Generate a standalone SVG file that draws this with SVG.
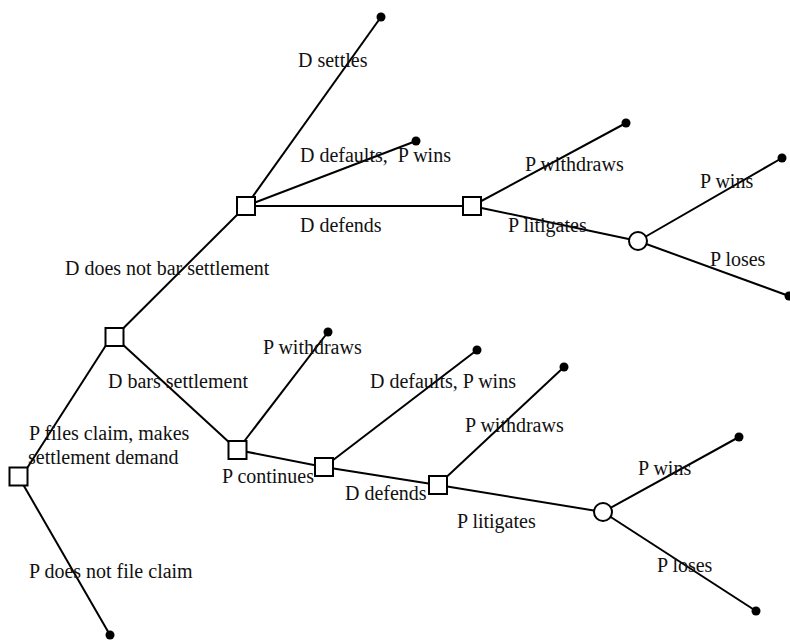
<svg xmlns="http://www.w3.org/2000/svg" width="790" height="641" viewBox="0 0 790 641">
<style>
.e{stroke:#000;stroke-width:2;fill:none}
.d{stroke:#000;stroke-width:2;fill:#fff}
.leaf{fill:#000}
text{font-family:"Liberation Serif","Times New Roman",serif;font-size:20px;fill:#111}
</style>
<rect width="790" height="641" fill="#fff"/>
<g id="connectors">
<line class="e" x1="27.5" y1="467.5" x2="105.5" y2="346"/>
<line class="e" x1="18.5" y1="476.5" x2="110" y2="635"/>
<line class="e" x1="114.5" y1="337" x2="246" y2="206"/>
<line class="e" x1="114.5" y1="337" x2="237.5" y2="450"/>
<line class="e" x1="246" y1="206" x2="381" y2="17"/>
<line class="e" x1="246" y1="206" x2="416" y2="141"/>
<line class="e" x1="246" y1="206" x2="472" y2="206"/>
<line class="e" x1="472" y1="206" x2="626" y2="123"/>
<line class="e" x1="472" y1="206" x2="638" y2="241"/>
<line class="e" x1="638" y1="241" x2="782" y2="158"/>
<line class="e" x1="638" y1="241" x2="789" y2="296"/>
<line class="e" x1="237.5" y1="450" x2="328" y2="332"/>
<line class="e" x1="237.5" y1="450" x2="324" y2="467"/>
<line class="e" x1="324" y1="467" x2="477" y2="350"/>
<line class="e" x1="324" y1="467" x2="438" y2="485"/>
<line class="e" x1="438" y1="485" x2="564" y2="367"/>
<line class="e" x1="438" y1="485" x2="603" y2="512"/>
<line class="e" x1="603" y1="512" x2="739" y2="437"/>
<line class="e" x1="603" y1="512" x2="756" y2="611"/>
</g>
<g id="root"><rect class="d" x="9.5" y="467.5" width="18" height="18"/></g>
<g id="n1"><rect class="d" x="105.5" y="328" width="18" height="18"/></g>
<g id="n2"><rect class="d" x="237" y="197" width="18" height="18"/></g>
<g id="n3"><rect class="d" x="463" y="197" width="18" height="18"/></g>
<g id="c1"><circle class="d" cx="638" cy="241" r="9"/></g>
<g id="n4"><rect class="d" x="228.5" y="441" width="18" height="18"/></g>
<g id="n5"><rect class="d" x="315" y="458" width="18" height="18"/></g>
<g id="n6"><rect class="d" x="429" y="476" width="18" height="18"/></g>
<g id="c2"><circle class="d" cx="603" cy="512" r="9"/></g>
<g id="leaves">
<circle class="leaf" cx="381" cy="17" r="4.5"/>
<circle class="leaf" cx="416" cy="141" r="4.5"/>
<circle class="leaf" cx="626" cy="123" r="4.5"/>
<circle class="leaf" cx="782" cy="158" r="4.5"/>
<circle class="leaf" cx="789" cy="296" r="4.5"/>
<circle class="leaf" cx="328" cy="332" r="4.5"/>
<circle class="leaf" cx="477" cy="350" r="4.5"/>
<circle class="leaf" cx="564" cy="367" r="4.5"/>
<circle class="leaf" cx="739" cy="437" r="4.5"/>
<circle class="leaf" cx="756" cy="611" r="4.5"/>
<circle class="leaf" cx="110" cy="635" r="4.5"/>
</g>
<g id="labels">
<text x="298" y="67">D settles</text>
<text x="300" y="162">D defaults,&#160; P wins</text>
<text x="300" y="232">D defends</text>
<text x="65" y="275">D does not bar settlement</text>
<text x="525" y="171">P withdraws</text>
<text x="508" y="232">P litigates</text>
<text x="700" y="188">P wins</text>
<text x="710" y="266">P loses</text>
<text x="108" y="388">D bars settlement</text>
<text x="29" y="440">P files claim, makes</text>
<text x="28" y="464">settlement demand</text>
<text x="222" y="483">P continues</text>
<text x="263" y="354">P withdraws</text>
<text x="370" y="388">D defaults, P wins</text>
<text x="465" y="432">P withdraws</text>
<text x="345" y="500">D defends</text>
<text x="457" y="528">P litigates</text>
<text x="638" y="475">P wins</text>
<text x="657" y="572">P loses</text>
<text x="29" y="578">P does not file claim</text>
</g>
</svg>
